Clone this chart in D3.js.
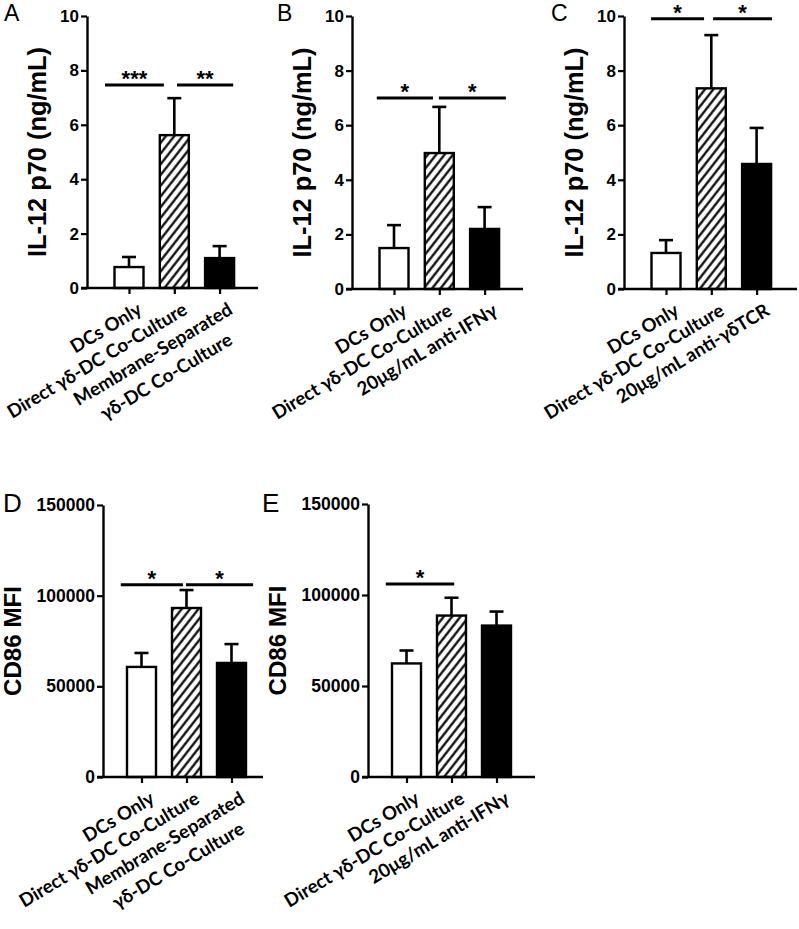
<!DOCTYPE html>
<html>
<head>
<meta charset="utf-8">
<script src="https://cdn.jsdelivr.net/npm/d3@7"></script>
<style>
  html, body { margin: 0; padding: 0; background: #fff; }
  svg { display: block; }
</style>
</head>
<body>
<script>
// ---------------- DATA ----------------
const catsA = [["DCs Only"], ["Direct γδ-DC Co-Culture"], ["Membrane-Separated", "γδ-DC Co-Culture"]];
const catsB = [["DCs Only"], ["Direct γδ-DC Co-Culture"], ["20μg/mL anti-IFNγ"]];
const catsC = [["DCs Only"], ["Direct γδ-DC Co-Culture"], ["20μg/mL anti-γδTCR"]];
const catsD = catsA;
const catsE = catsB;

const meanA = [0.77, 5.62, 1.10];
const errTopA = [1.14, 6.98, 1.54];
const meanB = [1.50, 4.98, 2.20];
const errTopB = [2.34, 6.67, 3.00];
const meanC = [1.32, 7.35, 4.58];
const errTopC = [1.79, 9.30, 5.90];
const meanD = [60700, 93200, 62900];
const errTopD = [68400, 103100, 73300];
const meanE = [62400, 88700, 83200];
const errTopE = [69500, 98500, 90900];

const ticksIL = [0, 2, 4, 6, 8, 10];
const ticksCD = [0, 50000, 100000, 150000];

const titleIL = "IL-12 p70 (ng/mL)";
const titleCD = "CD86 MFI";

// significance brackets: [start index, end index, value, label]
const sigA = [[-0.53, 0.77, 7.46, "***"], [1.06, 2.30, 7.46, "**"]];
const sigB = [[-0.38, 0.86, 7.0, "*"], [0.99, 2.47, 7.0, "*"]];
const sigC = [[-0.33, 0.84, 9.9, "*"], [1.04, 2.34, 9.9, "*"]];
const sigD = [[-0.46, 0.92, 106000, "*"], [0.99, 2.48, 106000, "*"]];
const sigE = [[-0.46, 1.06, 106000, "*"]];

// ---------------- LAYOUT ----------------
const layoutTop = { c1: 42, step: 45.3, tickFont: 17, titleFont: 26, titleLen: 210, titleOff: 41 };
const layoutBot = { c1: 38.5, step: 45, tickFont: 17.5, titleFont: 23, titleLen: 110, titleOff: 82 };

const svg = d3.select("body").append("svg").attr("width", 799).attr("height", 929);

const defs = svg.append("defs");
const pat = defs.append("pattern").attr("id", "hatch").attr("patternUnits", "userSpaceOnUse")
  .attr("width", 6.6).attr("height", 10).attr("patternTransform", "rotate(38)");
pat.append("rect").attr("width", 6.6).attr("height", 10).attr("fill", "#fff");
pat.append("line").attr("x1", 3.3).attr("x2", 3.3).attr("y1", 0).attr("y2", 10)
  .attr("stroke", "#000").attr("stroke-width", 2.2);

const fills = ["#fff", "url(#hatch)", "#000"];
const ARIAL = "'Liberation Sans', Arial, sans-serif";
const LABELF = "Lato, 'Open Sans', 'Noto Sans', sans-serif";

// size the category-label font so the longest reference label has its measured width
const probe = svg.append("text").style("font-family", LABELF).style("font-weight", "bold")
  .style("font-size", "20px").text("Direct γδ-DC Co-Culture");
const labelFont = 20 * 206 / probe.node().getComputedTextLength();
probe.remove();
const labelAngle = 31;

function drawPanel(cfg) {
  const { letter, letterX, letterY, cats, mean, errTop, ticks, title, sig, L, axisX, xEnd, bottom, top } = cfg;
  const g = svg.append("g");
  const y = d3.scaleLinear().domain([0, ticks[ticks.length - 1]]).range([bottom, top]);
  const xi = d3.scaleLinear().domain([0, 1]).range([axisX + L.c1, axisX + L.c1 + L.step]);
  const bw = 29;
  const y0 = y(0);

  // bars
  g.selectAll("rect.bar").data(mean).join("rect").attr("class", "bar")
    .attr("x", (d, i) => xi(i) - bw / 2).attr("width", bw)
    .attr("y", d => y(d)).attr("height", d => y0 - y(d))
    .attr("fill", (d, i) => fills[i]).attr("stroke", "#000").attr("stroke-width", 2.4);

  // error bars
  g.selectAll("line.err").data(mean).join("line").attr("class", "err")
    .attr("x1", (d, i) => xi(i)).attr("x2", (d, i) => xi(i))
    .attr("y1", d => y(d)).attr("y2", (d, i) => y(errTop[i]))
    .attr("stroke", "#000").attr("stroke-width", 2.6);
  g.selectAll("line.cap").data(errTop).join("line").attr("class", "cap")
    .attr("x1", (d, i) => xi(i) - 7).attr("x2", (d, i) => xi(i) + 7)
    .attr("y1", d => y(d)).attr("y2", d => y(d))
    .attr("stroke", "#000").attr("stroke-width", 2.6);

  // y axis
  const ya = g.append("g").attr("transform", `translate(${axisX},0)`)
    .call(d3.axisLeft(y).tickValues(ticks).tickSize(6).tickSizeOuter(0).tickPadding(2).tickFormat(d3.format("d")));
  ya.select(".domain").attr("stroke-width", 2.4);
  ya.selectAll(".tick line").attr("stroke-width", 2.2);
  ya.selectAll(".tick text").style("font-family", ARIAL).style("font-weight", "bold")
    .style("font-size", L.tickFont + "px").attr("fill", "#000");

  // x axis
  const xp = d3.scalePoint().domain([0, 1, 2]).range([xi(0), xi(2)]);
  const xa = g.append("g").attr("transform", `translate(0,${y0})`)
    .call(d3.axisBottom(xp).tickSize(6).tickFormat(""));
  xa.select(".domain").remove();
  xa.selectAll(".tick line").attr("stroke-width", 2.2);
  g.append("line").attr("x1", axisX - 6).attr("x2", xEnd).attr("y1", y0).attr("y2", y0)
    .attr("stroke", "#000").attr("stroke-width", 2.4);

  // x labels
  cats.forEach((lines, i) => {
    const t = g.append("text")
      .attr("transform", `translate(${xi(i) + 7},${y0 + 13}) rotate(${-labelAngle})`)
      .attr("text-anchor", "end").style("font-family", LABELF).style("font-weight", "bold")
      .style("font-size", labelFont + "px").attr("fill", "#000");
    const spans = lines.map((s, k) => t.append("tspan").attr("x", 0).attr("dy", k === 0 ? "0.75em" : 26).text(s));
    if (spans.length > 1) {
      const w0 = spans[0].node().getComputedTextLength();
      spans.forEach((sp, k) => {
        if (k > 0) { const w = sp.node().getComputedTextLength(); sp.attr("x", -(w0 - w) / 2); }
      });
    }
  });

  // y title
  g.append("text").attr("transform", `translate(${axisX - L.titleOff},${(y0 + y(ticks[ticks.length - 1])) / 2}) rotate(-90)`)
    .attr("text-anchor", "middle").style("font-family", ARIAL).style("font-weight", "bold")
    .style("font-size", L.titleFont + "px").attr("textLength", L.titleLen).attr("lengthAdjust", "spacingAndGlyphs")
    .attr("fill", "#000").text(title);

  // significance
  sig.forEach(s => {
    const x1 = xi(s[0]), x2 = xi(s[1]), yy = y(s[2]);
    g.append("line").attr("x1", x1).attr("x2", x2).attr("y1", yy).attr("y2", yy)
      .attr("stroke", "#000").attr("stroke-width", 3);
    g.append("text").attr("x", (x1 + x2) / 2).attr("y", yy + 1).attr("text-anchor", "middle")
      .style("font-family", ARIAL).style("font-weight", "bold").style("font-size", "22px").text(s[3]);
  });

  // panel letter
  svg.append("text").attr("x", letterX).attr("y", letterY).style("font-family", ARIAL)
    .style("font-size", cfg.letterSize + "px").attr("fill", "#000").text(letter);
}

drawPanel({ letter: "A", letterX: 4, letterY: 21, letterSize: 23, cats: catsA, mean: meanA, errTop: errTopA, ticks: ticksIL, title: titleIL, sig: sigA, L: layoutTop, axisX: 87, xEnd: 258, top: 16, bottom: 288 });
drawPanel({ letter: "B", letterX: 277, letterY: 21, letterSize: 23, cats: catsB, mean: meanB, errTop: errTopB, ticks: ticksIL, title: titleIL, sig: sigB, L: layoutTop, axisX: 352, xEnd: 523, top: 16, bottom: 289 });
drawPanel({ letter: "C", letterX: 551, letterY: 21, letterSize: 23, cats: catsC, mean: meanC, errTop: errTopC, ticks: ticksIL, title: titleIL, sig: sigC, L: layoutTop, axisX: 624, xEnd: 797, top: 16, bottom: 289 });
drawPanel({ letter: "D", letterX: 3, letterY: 512, letterSize: 26, cats: catsD, mean: meanD, errTop: errTopD, ticks: ticksCD, title: titleCD, sig: sigD, L: layoutBot, axisX: 103, xEnd: 263, top: 505, bottom: 777 });
drawPanel({ letter: "E", letterX: 262, letterY: 512, letterSize: 26, cats: catsE, mean: meanE, errTop: errTopE, ticks: ticksCD, title: titleCD, sig: sigE, L: layoutBot, axisX: 368, xEnd: 535, top: 504, bottom: 777 });
</script>
</body>
</html>
